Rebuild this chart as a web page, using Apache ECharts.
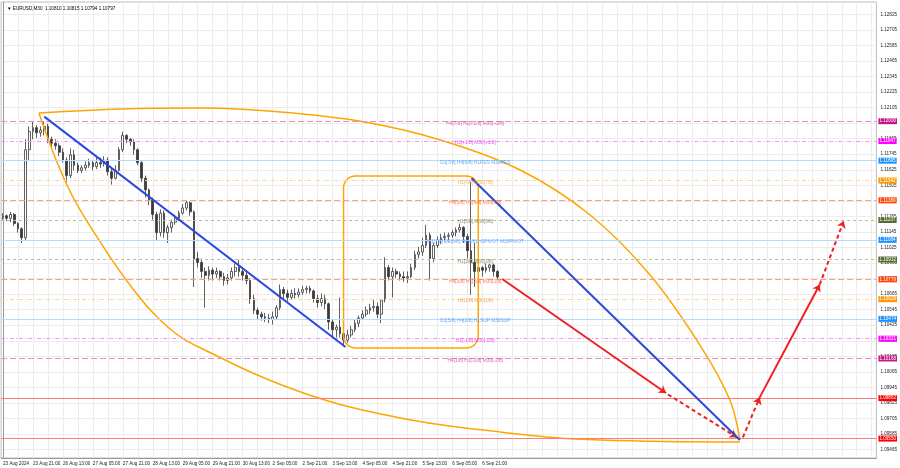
<!DOCTYPE html>
<html><head><meta charset="utf-8">
<script src="https://cdn.jsdelivr.net/npm/echarts@6/dist/echarts.min.js"></script>
<style>html,body{margin:0;padding:0;background:#fff}#c{width:900px;height:468px}</style>
</head><body><div id="c"></div>
<script>
// ---------- data ----------
const titleText = "EURUSD,M30  1.10810 1.10815 1.10794 1.10797";
const xLabels = ["23 Aug 2024","23 Aug 21:00","26 Aug 13:00","27 Aug 05:00","27 Aug 21:00","28 Aug 13:00","29 Aug 05:00","29 Aug 21:00","30 Aug 13:00","2 Sep 05:00","2 Sep 21:00","3 Sep 13:00","4 Sep 05:00","4 Sep 21:00","5 Sep 13:00","6 Sep 05:00","6 Sep 21:00"];
const BARS_PER_LABEL = 32;   // M30 bars between two time labels
const BARS_PER_CANDLE = 4;   // each drawn candle summarises 4 M30 bars
const yTicks = [1.09465,1.09585,1.09705,1.09825,1.09945,1.10065,1.10185,1.10305,1.10425,1.10545,1.10665,1.10785,1.10905,1.11025,1.11145,1.11265,1.11385,1.11505,1.11625,1.11745,1.11865,1.11985,1.12105,1.12225,1.12345,1.12465,1.12585,1.12705,1.12825];
// [open, close, low, high]
const ohlc = [
[1.1126,1.1127,1.1124,1.1129],[1.1127,1.1125,1.1123,1.1128],[1.1125,1.1128,1.1122,1.1130],[1.1128,1.1121,1.1119,1.1129],
[1.1121,1.1117,1.1114,1.1122],[1.1117,1.1110,1.1106,1.1118],[1.1110,1.1178,1.1108,1.1186],[1.1178,1.1192,1.1170,1.1196],
[1.1192,1.1195,1.1186,1.1200],[1.1195,1.1191,1.1187,1.1197],[1.1191,1.1193,1.1188,1.1196],[1.1193,1.1196,1.1189,1.1200],
[1.1196,1.1186,1.1183,1.1198],[1.1186,1.1183,1.1179,1.1188],[1.1183,1.1181,1.1178,1.1186],[1.1181,1.1176,1.1173,1.1183],
[1.1176,1.1170,1.1168,1.1179],[1.1170,1.1158,1.1153,1.1172],[1.1158,1.1174,1.1156,1.1179],[1.1174,1.1166,1.1162,1.1178],
[1.1166,1.1162,1.1160,1.1168],[1.1162,1.1164,1.1160,1.1166],[1.1164,1.1166,1.1162,1.1169],[1.1166,1.1168,1.1164,1.1171],
[1.1168,1.1165,1.1162,1.1170],[1.1165,1.1168,1.1163,1.1172],[1.1168,1.1167,1.1164,1.1172],[1.1167,1.1170,1.1165,1.1173],
[1.1170,1.1161,1.1158,1.1172],[1.1161,1.1156,1.1151,1.1164],[1.1156,1.1162,1.1155,1.1166],[1.1162,1.1178,1.1161,1.1180],
[1.1178,1.1189,1.1176,1.1192],[1.1189,1.1186,1.1183,1.1190],[1.1186,1.1184,1.1181,1.1187],[1.1184,1.1178,1.1174,1.1186],
[1.1178,1.1168,1.1166,1.1179],[1.1168,1.1156,1.1153,1.1170],[1.1156,1.1147,1.1141,1.1158],[1.1147,1.1139,1.1135,1.1148],
[1.1139,1.1128,1.1124,1.1141],[1.1128,1.1114,1.1108,1.1130],[1.1114,1.1129,1.1111,1.1132],[1.1129,1.1114,1.1110,1.1131],
[1.1114,1.1118,1.1106,1.1120],[1.1118,1.1122,1.1114,1.1124],[1.1122,1.1125,1.1120,1.1128],[1.1125,1.1129,1.1123,1.1131],
[1.1129,1.1133,1.1128,1.1136],[1.1133,1.1137,1.1131,1.1139],[1.1137,1.1130,1.1127,1.1138],[1.1130,1.1094,1.1072,1.1131],
[1.1094,1.1091,1.1087,1.1099],[1.1091,1.1084,1.1079,1.1094],[1.1084,1.1081,1.1056,1.1087],[1.1081,1.1085,1.1077,1.1088],
[1.1085,1.1082,1.1077,1.1087],[1.1082,1.1084,1.1079,1.1087],[1.1084,1.1080,1.1077,1.1085],[1.1080,1.1077,1.1073,1.1083],
[1.1077,1.1079,1.1074,1.1082],[1.1079,1.1084,1.1077,1.1087],[1.1084,1.1087,1.1080,1.1090],[1.1087,1.1084,1.1080,1.1093],
[1.1084,1.1081,1.1077,1.1087],[1.1081,1.1077,1.1074,1.1085],[1.1077,1.1063,1.1059,1.1079],[1.1063,1.1054,1.1051,1.1066],
[1.1054,1.1051,1.1047,1.1056],[1.1051,1.1049,1.1046,1.1053],[1.1049,1.1048,1.1045,1.1052],[1.1048,1.1047,1.1044,1.1051],
[1.1047,1.1049,1.1043,1.1053],[1.1049,1.1056,1.1047,1.1058],[1.1056,1.1070,1.1054,1.1074],[1.1070,1.1067,1.1062,1.1072],
[1.1067,1.1064,1.1061,1.1070],[1.1064,1.1067,1.1062,1.1070],[1.1067,1.1066,1.1063,1.1071],[1.1066,1.1068,1.1064,1.1071],
[1.1068,1.1070,1.1066,1.1073],[1.1070,1.1071,1.1067,1.1073],[1.1071,1.1069,1.1067,1.1073],[1.1069,1.1063,1.1060,1.1070],
[1.1063,1.1060,1.1056,1.1066],[1.1060,1.1063,1.1057,1.1067],[1.1063,1.1059,1.1055,1.1066],[1.1059,1.1045,1.1039,1.1060],
[1.1045,1.1039,1.1034,1.1047],[1.1039,1.1041,1.1033,1.1043],[1.1041,1.1036,1.1033,1.1064],[1.1036,1.1031,1.1026,1.1039],
[1.1031,1.1035,1.1029,1.1039],[1.1035,1.1039,1.1033,1.1042],[1.1039,1.1044,1.1037,1.1047],[1.1044,1.1048,1.1041,1.1050],
[1.1048,1.1051,1.1047,1.1054],[1.1051,1.1054,1.1049,1.1057],[1.1054,1.1056,1.1051,1.1059],[1.1056,1.1057,1.1053,1.1062],
[1.1057,1.1051,1.1048,1.1060],[1.1051,1.1062,1.1044,1.1063],[1.1062,1.1087,1.1060,1.1095],[1.1087,1.1080,1.1077,1.1089],
[1.1080,1.1084,1.1064,1.1087],[1.1084,1.1082,1.1079,1.1086],[1.1082,1.1080,1.1077,1.1084],[1.1080,1.1079,1.1076,1.1084],
[1.1079,1.1080,1.1075,1.1084],[1.1080,1.1087,1.1079,1.1090],[1.1087,1.1097,1.1085,1.1100],[1.1097,1.1099,1.1094,1.1103],
[1.1099,1.1104,1.1096,1.1110],[1.1104,1.1112,1.1102,1.1120],[1.1112,1.1094,1.1077,1.1114],[1.1094,1.1104,1.1091,1.1106],
[1.1104,1.1108,1.1102,1.1111],[1.1108,1.1110,1.1105,1.1113],[1.1110,1.1111,1.1107,1.1114],[1.1111,1.1112,1.1107,1.1114],
[1.1112,1.1114,1.1110,1.1116],[1.1114,1.1116,1.1111,1.1118],[1.1116,1.1118,1.1114,1.1121],[1.1118,1.1111,1.1106,1.1119],
[1.1111,1.1100,1.1094,1.1113],[1.1100,1.1091,1.1066,1.1153],[1.1091,1.1084,1.1072,1.1106],[1.1084,1.1087,1.1064,1.1118],
[1.1087,1.1085,1.1080,1.1088],[1.1085,1.1087,1.1083,1.1090],[1.1087,1.1089,1.1084,1.1090],[1.1089,1.1084,1.1080,1.1090],
[1.1084,1.10797,1.1078,1.1085]
];
const levelPrices = [1.12000,1.11847,1.11695,1.11542,1.11389,1.11237,1.11084,1.10932,1.10779,1.10626,1.10474,1.10321,1.10168];
const levelNames = ["H4[7/8] H1[+2/8] M30[+2/8]","H1[+1/8] M30[+1/8]","D1[7/8] H4[6/8] H1RES M30RES","H1[7/8] M30[7/8]","H4[5/8] H1[6/8] M30[6/8]","H1[5/8] M30[5/8]","W1[7/8] D1[6/8] H4[4/8] H1PIVOT M30PIVOT","H1[3/8] M30[3/8]","H4[3/8] H1[2/8] M30[2/8]","H1[1/8] M30[1/8]","D1[5/8] H4[2/8] H1SUP M30SUP","H1[-1/8] M30[-1/8]","H4[1/8] H1[-2/8] M30[-2/8]"];
const targetPrices = [1.09862, 1.09550];
const lastPrice = 1.10797;
// drawings: [bar index, price]
const trendA = [[44.1,1.12035],[365.9,1.10257]];
const trendB = [[500.5,1.11559],[787.2,1.09539]];
const arcUpper = [[38.4,1.12063],[125.9,1.12094],[211.2,1.12102],[296.5,1.12071],[381.9,1.11999],[467.2,1.11855],[552.5,1.11623],[627.2,1.11276],[691.2,1.10813],[744.5,1.10272],[776.5,1.09848],[787.2,1.09539]];
const arcLower = [[38.4,1.12063],[69.3,1.11492],[104.5,1.11060],[139.7,1.10697],[176.0,1.10411],[211.2,1.10249],[317.9,1.09910],[424.5,1.09709],[531.2,1.09601],[637.9,1.09539],[787.2,1.09524]];
const boxRange = [363.8,1.11577,507.7,1.10249];
const forecastSolid = [[[533.3,1.10782],[708.3,1.09902]],[[808.5,1.09870],[872.5,1.10740]]];
const forecastDashed = [[[710.4,1.09890],[784.0,1.09560]],[[790.4,1.09560],[808.5,1.09870]],[[872.5,1.10740],[898.1,1.11230]]];

// ---------- styles ----------
const levelStyle = [
 {box:'#c71585', line:'#ea8cc4', text:'#cc3d95', dash:[6,3]},
 {box:'#ff00ff', line:'#ff8cff', text:'#ee22ee', dash:[4,2,1,2]},
 {box:'#1e90ff', line:'#b3dcff', text:'#3d95f5', dash:'solid'},
 {box:'#ff9900', line:'#ffd199', text:'#f39a30', dash:[4,2,1,2]},
 {box:'#ff4500', line:'#ff9f80', text:'#f25a2a', dash:[6,3]},
 {box:'#556b2f', line:'#b8bd9e', text:'#6f7a4a', dash:[3,3]},
 {box:'#1e90ff', line:'#b3dcff', text:'#3d95f5', dash:'solid'},
 {box:'#556b2f', line:'#b8bd9e', text:'#6f7a4a', dash:[3,3]},
 {box:'#ff4500', line:'#ff9f80', text:'#f25a2a', dash:[6,3]},
 {box:'#ff9900', line:'#ffd199', text:'#f39a30', dash:[4,2,1,2]},
 {box:'#1e90ff', line:'#b3dcff', text:'#3d95f5', dash:'solid'},
 {box:'#ff00ff', line:'#ff8cff', text:'#ee22ee', dash:[4,2,1,2]},
 {box:'#c71585', line:'#ea8cc4', text:'#cc3d95', dash:[6,3]}
];
const FONT = 'Liberation Sans, Arial, sans-serif';
const NAME_BAR = 504.5;

const chart = echarts.init(document.getElementById('c'), null, {renderer:'canvas'});

const vGrid = []; for (let b = 0; b <= 928; b += BARS_PER_LABEL/2) vGrid.push(b);
const xLabelVals = xLabels.map((_, i) => i * BARS_PER_LABEL);

function boxLabel(price, color){
  return {show:true, position:'end', distance:2, formatter: price.toFixed(5), color:'#fff',
    backgroundColor: color, padding:[1,1,0,1], fontSize:4.6, fontFamily:FONT};
}
function levelLine(p, lineStyle, label, z){
  return {type:'line', z:z, data:[], showSymbol:false, silent:true,
    markLine:{silent:true, precision:6, symbol:['none','none'], animation:false,
      lineStyle: lineStyle, label: label, data:[{yAxis:p}]}};
}
const levelSeries = levelPrices.map((p, i) =>
  levelLine(p, {color: levelStyle[i].line, type: levelStyle[i].dash, width: 1}, boxLabel(p, levelStyle[i].box), 2));
targetPrices.forEach(p => levelSeries.push(levelLine(p, {color:'#ff7a7a', type:'solid', width:1}, boxLabel(p, '#ff0000'), 2)));
levelSeries.push(levelLine(lastPrice, {opacity:0}, boxLabel(lastPrice, '#000000'), 7));

const redMarks = [];
forecastSolid.forEach(s => redMarks.push([{coord:s[0], lineStyle:{type:'solid'}}, {coord:s[1]}]));
forecastDashed.forEach(s => redMarks.push([{coord:s[0], lineStyle:{type:[4,3]}}, {coord:s[1]}]));

const option = {
  animation:false,
  backgroundColor:'#ffffff',
  textStyle:{fontFamily:FONT},
  title:{text: '\u25BC ' + titleText, left:2, top:1, textStyle:{fontSize:4.6, fontWeight:'normal', color:'#000', fontFamily:FONT}},
  grid:{left:0, right:23, top:2, bottom:10, show:true, borderColor:'#bdbdbd', borderWidth:1},
  xAxis:{type:'value', min:-2, max:933,
    axisLine:{show:true, lineStyle:{color:'#9a9a9a'}},
    axisTick:{show:false, customValues:vGrid},
    axisLabel:{customValues:xLabelVals, formatter: v => xLabels[Math.round(v / BARS_PER_LABEL)] || '', fontSize:4.6, color:'#222', align:'left', margin:3, fontFamily:FONT},
    splitLine:{show:true, lineStyle:{color:'#ececec', width:1}}},
  yAxis:{type:'value', position:'right', min:1.0940, max:1.1292,
    axisLine:{show:true, lineStyle:{color:'#9a9a9a'}},
    axisTick:{show:false, customValues:yTicks},
    axisLabel:{customValues:yTicks, formatter: v => v.toFixed(5), fontSize:4.6, color:'#222', margin:4, fontFamily:FONT},
    splitLine:{show:true, lineStyle:{color:'#ececec', width:1}}},
  series:[
    ...levelSeries,
    {type:'candlestick', z:3, barWidth:2.2,
     data: ohlc.map((d, i) => [i * BARS_PER_CANDLE, d[0], d[1], d[2], d[3]]),
     encode:{x:0, y:[1,2,3,4]},
     itemStyle:{color:'#ffffff', color0:'#3a3a3a', borderColor:'#3a3a3a', borderColor0:'#3a3a3a', borderWidth:0.8}
    },
    {type:'scatter', z:6, symbolSize:0.1, itemStyle:{color:'rgba(0,0,0,0)'},
     data: levelPrices.map((p, i) => ({value:[NAME_BAR, p], label:{color: levelStyle[i].text}})),
     label:{show:true, position:'inside', offset:[0,2], fontSize:4.8, fontFamily:FONT, formatter: p => levelNames[p.dataIndex]}},
    {type:'line', z:5, showSymbol:false, data:trendA, lineStyle:{color:'#2a48e0', width:2}},
    {type:'line', z:5, showSymbol:false, data:trendB, lineStyle:{color:'#2a48e0', width:2}},
    {type:'line', z:4, showSymbol:false, smooth:0.35, data:arcUpper, lineStyle:{color:'#ffa500', width:1.5}},
    {type:'line', z:4, showSymbol:false, smooth:0.4, data:arcLower, lineStyle:{color:'#ffa500', width:1.5}},
    {type:'custom', z:4, data:[boxRange],
     renderItem:(params, api) => {
       const a = api.coord([api.value(0), api.value(1)]);
       const b = api.coord([api.value(2), api.value(3)]);
       return {type:'rect', shape:{x:a[0], y:a[1], width:b[0]-a[0], height:b[1]-a[1], r:12},
               style:{fill:'none', stroke:'#ffa500', lineWidth:1.5}};
     }},
    {type:'line', z:6, data:[], showSymbol:false,
     markLine:{silent:true, precision:6, symbol:['none','arrow'], symbolSize:7, animation:false,
       lineStyle:{color:'#f02020', width:2}, label:{show:false}, data: redMarks}}
  ]
};
chart.setOption(option);
</script></body></html>
